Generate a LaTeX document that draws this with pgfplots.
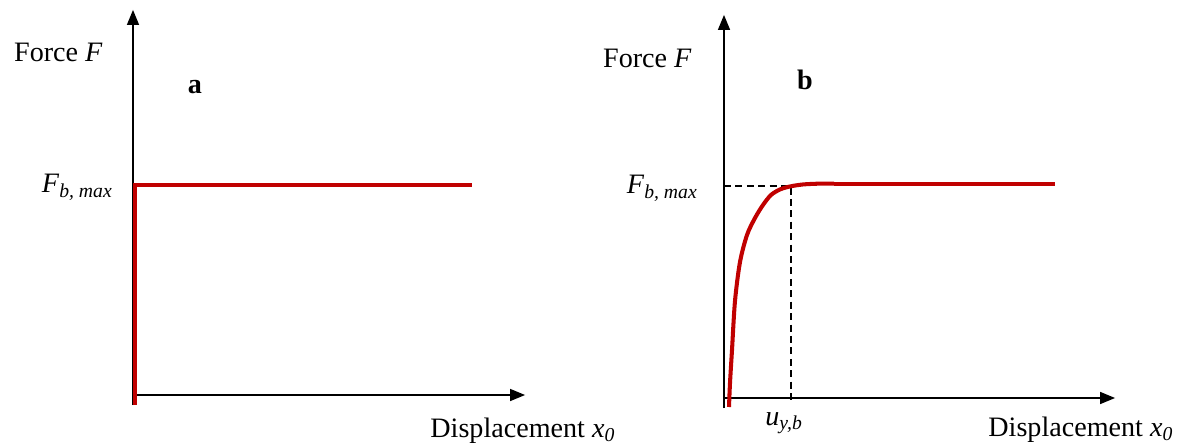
\documentclass[border=0pt]{standalone}
\usepackage{fontspec}
\setmainfont{Liberation Serif}
\usepackage{pgfplots}
\pgfplotsset{compat=1.18}
\usetikzlibrary{arrows.meta}
\definecolor{curvered}{RGB}{192,0,0}

\tikzset{lbl/.style={font=\fontsize{16}{19}\selectfont, inner sep=0pt}}
\pgfplotsset{
  panel/.style={
    axis lines=middle,
    x=0.02cm, y=0.02cm,
    xmin=0, ymin=-10,
    xtick=\empty, ytick=\empty,
    clip=false,
    axis line style={line width=0.8pt, -{Triangle[length=0.3cm,width=0.24cm]}},
    anchor=south west,
  },
}

\begin{document}
\begin{tikzpicture}
\useasboundingbox (0,0) rectangle (23.7cm,-8.92cm);

% panel a: rigid-plastic
\begin{axis}[panel, at={(2.66cm,-8.1cm)}, xmax=392, ymax=385]
\addplot[curvered, line width=2.3pt, line join=miter] coordinates {
  (2,-10) (2,210) (339,210)
};
\node[lbl, anchor=base east] at (axis cs:-30,333) {Force \textit{F}};
\node[lbl, anchor=base] at (axis cs:62,301) {\textbf{a}};
\node[lbl, anchor=base east] at (axis cs:-20,202) {\textit{F}\textsubscript{\textit{b, max}}};
\node[lbl, anchor=base west] at (axis cs:297,-42) {Displacement \textit{x}\textsubscript{\textit{0}}};
\end{axis}

% panel b: smooth yield
\begin{axis}[panel, at={(14.48cm,-8.16cm)}, xmax=391, ymax=383]
\addplot[black, line width=0.8pt, dash pattern=on 4pt off 2.5pt] coordinates {
  (0,212) (67,212) (67,-3)
};
\addplot[curvered, line width=2.3pt, smooth, tension=0.5] coordinates {
  (5,-9) (6,15) (8,48) (11,97) (16,136) (23,163) (31,180) (39,193) (47,203)
  (56,208.5) (66,211.5) (79,213.5) (95,214.3) (110,214.4)
};
\addplot[curvered, line width=2.3pt] coordinates {
  (110,214.4) (331,214.4)
};
\node[lbl, anchor=base east] at (axis cs:-32,330) {Force \textit{F}};
\node[lbl, anchor=base] at (axis cs:81,308) {\textbf{b}};
\node[lbl, anchor=base east] at (axis cs:-26,204) {\textit{F}\textsubscript{\textit{b, max}}};
\node[lbl, anchor=base west] at (axis cs:41,-27) {\textit{u}\textsubscript{\textit{y,b}}};
\node[lbl, anchor=base west] at (axis cs:264,-38) {Displacement \textit{x}\textsubscript{\textit{0}}};
\end{axis}
\end{tikzpicture}
\end{document}
